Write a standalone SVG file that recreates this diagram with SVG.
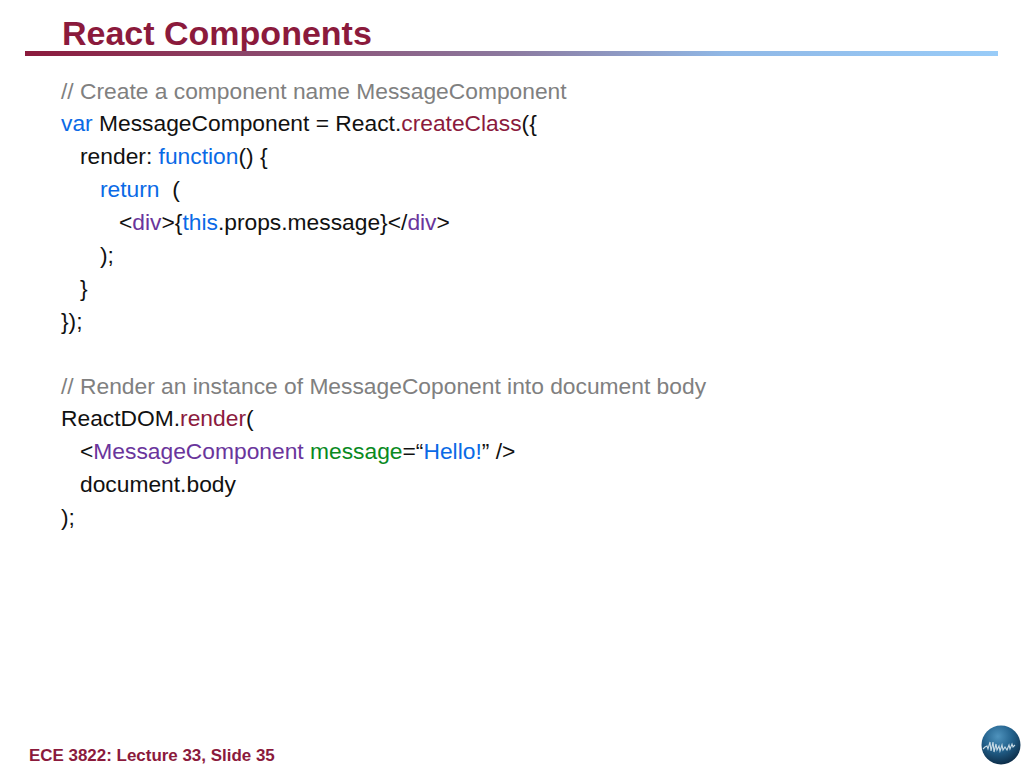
<svg xmlns="http://www.w3.org/2000/svg" width="1024" height="768" viewBox="0 0 1024 768">
<style>
text{font-family:"Liberation Sans",Arial,sans-serif;white-space:pre}
.c{font-size:22.8px;fill:#111}
.g{fill:#808080}.b{fill:#0a6ae6}.r{fill:#8b1a3d}.p{fill:#6a359c}.n{fill:#0a8a1e}
</style>
<defs>
<linearGradient id="rule" x1="0" x2="1" y1="0" y2="0"><stop offset="0" stop-color="#8b1a3c"/><stop offset="0.5" stop-color="#8c7aa0"/><stop offset="0.72" stop-color="#90b8e6"/><stop offset="1" stop-color="#99ccf8"/></linearGradient>
<radialGradient id="globe" cx="0.42" cy="0.28" r="0.75"><stop offset="0" stop-color="#4f93bd"/><stop offset="0.5" stop-color="#22618c"/><stop offset="1" stop-color="#0c2a44"/></radialGradient>
</defs>
<rect width="1024" height="768" fill="#fff"/>
<text x="62" y="45" font-size="34" font-weight="bold" fill="#8b1a3c">React Components</text>
<rect x="25" y="51" width="973" height="5" fill="url(#rule)"/>
<text class="c" x="61" y="99"><tspan class="g">// Create a component name MessageComponent</tspan></text>
<text class="c" x="61" y="131"><tspan class="b">var</tspan> MessageComponent = React.<tspan class="r">createClass</tspan>({</text>
<text class="c" x="80" y="164">render: <tspan class="b">function</tspan>() {</text>
<text class="c" x="100" y="197"><tspan class="b">return</tspan>  (</text>
<text class="c" x="119" y="230">&lt;<tspan class="p">div</tspan>&gt;{<tspan class="b">this</tspan>.props.message}&lt;/<tspan class="p">div</tspan>&gt;</text>
<text class="c" x="100" y="263">);</text>
<text class="c" x="80" y="296">}</text>
<text class="c" x="61" y="329">});</text>
<text class="c" x="61" y="394"><tspan class="g">// Render an instance of MessageCoponent into document body</tspan></text>
<text class="c" x="61" y="426">ReactDOM.<tspan class="r">render</tspan>(</text>
<text class="c" x="80" y="459">&lt;<tspan class="p">MessageComponent</tspan> <tspan class="n">message</tspan>=“<tspan class="b">Hello!</tspan>” /&gt;</text>
<text class="c" x="80" y="492">document.body</text>
<text class="c" x="61" y="525">);</text>
<text x="29" y="761" font-size="16.95" font-weight="bold" fill="#8b1a3c">ECE 3822: Lecture 33, Slide 35</text>
<g id="logo">
<circle cx="1001" cy="745" r="19.5" fill="url(#globe)"/>
<path d="M983 749l2-2 2-1 1 3 2-7 1 9 2-9 1 10 2-8 1 6 2-4 1 5 2-6 1 5 2-3 2 3 2-5 1 4 2-5 1 3 2-2" fill="none" stroke="#c8dbe6" stroke-width="1.1"/>
</g>
</svg>
